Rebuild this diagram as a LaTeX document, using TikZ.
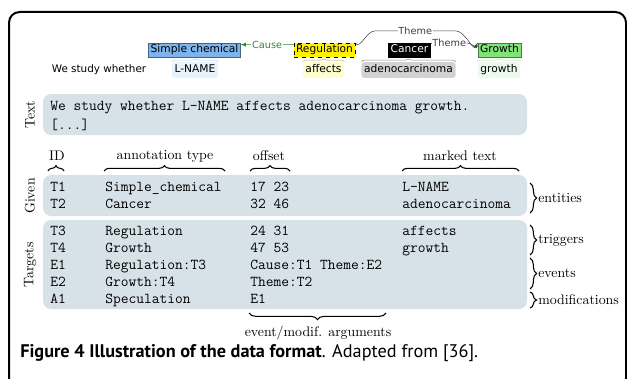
\documentclass[tikz,border=0pt]{standalone}
\usepackage{fontspec}
\usepackage{tikz}
\usetikzlibrary{decorations.pathreplacing,positioning}
\newfontfamily\annofont{DejaVu Sans}
\newfontfamily\capfont{PT Sans}
\definecolor{blockFill}{RGB}{215,226,232}
\definecolor{chemBlue}{RGB}{125,180,236}
\definecolor{growGreen}{RGB}{128,228,118}
\definecolor{causeGreen}{RGB}{40,140,40}
\definecolor{lnameBg}{RGB}{230,242,252}
\definecolor{affectsBg}{RGB}{255,252,205}
\definecolor{adenoBg}{RGB}{210,210,210}
\definecolor{growthBg}{RGB}{235,250,235}
\tikzset{ % common looks
	entityBox/.style={draw, font=\annofont\fontsize{8}{9}\selectfont, inner xsep=1.5pt, inner ysep=1.5pt,
		text height=5.8pt, text depth=1.6pt},
	spanBg/.style={rounded corners=2pt, font=\annofont\fontsize{8}{9}\selectfont, inner xsep=2pt, inner ysep=2pt,
		text height=6pt, text depth=1.7pt},
	spanBrace/.style={decorate, decoration={brace, amplitude=2pt}, thin},
	arrowLbl/.style={fill=white, inner sep=0.6pt, font=\annofont\fontsize{7.3}{8}\selectfont},
	themeArrow/.style={-latex, black!75, thin},
	causeArrow/.style={-latex, causeGreen, thin},
	monoText/.style={anchor=west, inner sep=0pt, text height=7.5pt, text depth=2.3pt,
		font=\ttfamily\fontsize{11.3}{13}\selectfont},
	headText/.style={inner sep=0pt, font=\fontsize{10.4}{12}\selectfont},
	sideText/.style={anchor=west, inner sep=0pt, font=\fontsize{10.4}{12}\selectfont},
	rotLbl/.style={rotate=90, inner sep=0pt, font=\fontsize{10.4}{12}\selectfont},
	colBrace/.style={decorate, decoration={brace, amplitude=4pt}, thick},
	sideBrace/.style={decorate, decoration={brace, amplitude=5pt}, thick},
}
\begin{document}
\begin{tikzpicture}[x=0.75pt,y=-0.75pt]
	% Frame
	\useasboundingbox (0,0) rectangle (627,378);
	\clip (0,0) rectangle (627,378);
	\draw [line width=1.5pt, rounded corners=8pt] (9,420) |- (626,12) -- (626,420);
	% Annotated sentence
	\node [font=\annofont\fontsize{7.8}{9}\selectfont, inner sep=0pt] (wsw) at (99,70) {We study whether};
	\node [entityBox, fill=chemBlue, draw=chemBlue!55!black] (simp) at (194.5,50) {Simple chemical};
	\node [spanBg, fill=lnameBg] (lname) at (195,70) {L-NAME};
	\node [entityBox, fill=yellow, dashed] (reg) at (324.5,50) {Regulation};
	\node [spanBg, fill=affectsBg] (affects) at (323.5,70) {affects};
	\node [entityBox, fill=black, text=white] (canc) at (409.5,50) {Cancer};
	\node [spanBg, fill=adenoBg] (adeno) at (408.5,70) {adenocarcinoma};
	\node [entityBox, fill=growGreen, draw=growGreen!55!black] (grow) at (499.5,50) {Growth};
	\node [spanBg, fill=growthBg] (growth) at (499,70) {growth};
	% Span braces
	\draw [spanBrace, lnameBg!50!chemBlue] ([yshift=0.3pt]lname.north west) -- ([yshift=0.3pt]lname.north east);
	\draw [spanBrace, affectsBg!65!black] ([yshift=0.3pt]affects.north west) -- ([yshift=0.3pt]affects.north east);
	\draw [spanBrace, black!45] ([yshift=0.3pt]adeno.north west) -- ([yshift=0.3pt]adeno.north east);
	\draw [spanBrace, growthBg!50!growGreen] ([yshift=0.3pt]growth.north west) -- ([yshift=0.3pt]growth.north east);
	% Relations
	\draw [causeArrow] (reg.170) -- node [arrowLbl, text=causeGreen] {Cause} ([yshift=4pt]simp.east);
	\draw [themeArrow] (reg.north east) to [out=-60,in=180] ++(20,-12)
		-- node [arrowLbl] {Theme} ++(80,0) to [out=0,in=-120] (grow.north west);
	\draw [themeArrow] (grow.170) to [out=210,in=0] ++(-10,-3)
		-- node [arrowLbl] {Theme} ([yshift=5pt]canc.east);
	% Text block
	\fill [blockFill, rounded corners=6pt] (43,94) rectangle (527,135);
	\node [rotLbl] (lblText) at (30,114.5) {Text};
	\node [monoText] (txt1) at (50,107) {We study whether L-NAME affects adenocarcinoma growth.};
	\node [monoText] (txt2) at (50,126) {[...]};
	% Column heads
	\node [headText] (hdId) at (57,156) {ID};
	\node [headText] (hdType) at (165,156) {annotation type};
	\node [headText] (hdOff) at (269,156) {offset};
	\node [headText] (hdMark) at (460,156) {marked text};
	\draw [colBrace] (48,171) -- (64,171);
	\draw [colBrace] (104,171) -- (225,171);
	\draw [colBrace] (250,171) -- (290,171);
	\draw [colBrace] (402,171) -- (519,171);
	% Given block
	\fill [blockFill, rounded corners=6pt] (43,175) rectangle (527,216);
	\node [rotLbl] (lblGiven) at (30,196) {Given};
	\node [monoText] (idT1) at (50,188) {T1}; \node [monoText] (tyT1) at (105,188) {Simple\_chemical};
	\node [monoText] (ofT1) at (250,188) {17 23}; \node [monoText] (mkT1) at (402,188) {L-NAME};
	\node [monoText] (idT2) at (50,205) {T2}; \node [monoText] (tyT2) at (105,205) {Cancer};
	\node [monoText] (ofT2) at (250,205) {32 46}; \node [monoText] (mkT2) at (402,205) {adenocarcinoma};
	% Targets block
	\fill [blockFill, rounded corners=6pt] (43,220) rectangle (527,309);
	\node [rotLbl] (lblTargets) at (30,265) {Targets};
	\node [monoText] (idT3) at (50,232) {T3}; \node [monoText] (tyT3) at (105,232) {Regulation};
	\node [monoText] (ofT3) at (250,232) {24 31}; \node [monoText] (mkT3) at (402,232) {affects};
	\node [monoText] (idT4) at (50,249) {T4}; \node [monoText] (tyT4) at (105,249) {Growth};
	\node [monoText] (ofT4) at (250,249) {47 53}; \node [monoText] (mkT4) at (402,249) {growth};
	\node [monoText] (idE1) at (50,266) {E1}; \node [monoText] (tyE1) at (105,266) {Regulation:T3};
	\node [monoText] (ofE1) at (250,266) {Cause:T1 Theme:E2};
	\node [monoText] (idE2) at (50,283) {E2}; \node [monoText] (tyE2) at (105,283) {Growth:T4};
	\node [monoText] (ofE2) at (250,283) {Theme:T2};
	\node [monoText] (idA1) at (50,300) {A1}; \node [monoText] (tyA1) at (105,300) {Speculation};
	\node [monoText] (ofA1) at (250,300) {E1};
	% Side braces
	\draw [sideBrace] (530,183) -- (530,213);
	\node [sideText] (lblEnt) at (538,198) {entities};
	\draw [sideBrace] (530,225) -- (530,255);
	\node [sideText] (lblTrig) at (538,240) {triggers};
	\draw [sideBrace] (530,258) -- (530,289);
	\node [sideText] (lblEv) at (538,273) {events};
	\draw [sideBrace] (530,292) -- (530,308);
	\node [sideText] (lblMod) at (538,300) {modifications};
	\draw [sideBrace] (386,313) -- (249,313);
	\node [headText] (lblArgs) at (318,333) {event/modif. arguments};
	% Caption
	\node [anchor=west, inner sep=0pt, font=\capfont\fontsize{13.7}{16}\selectfont] (cap) at (20,353)
		{{\bfseries Figure 4 Illustration of the data format}. Adapted from [36].};
\end{tikzpicture}
\end{document}
